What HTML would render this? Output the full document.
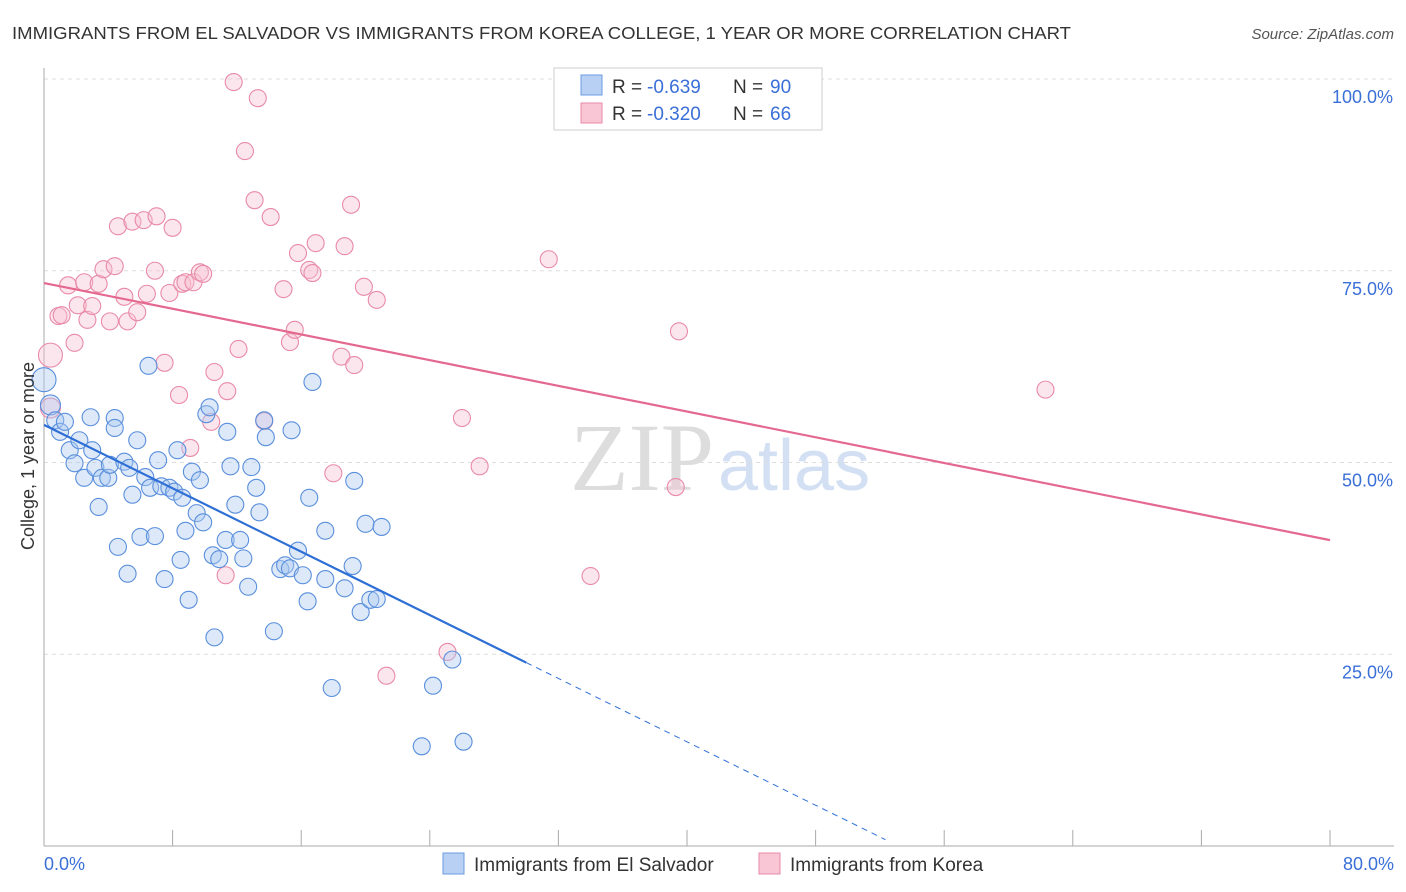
<!DOCTYPE html>
<html><head><meta charset="utf-8"><style>
body{margin:0;background:#fff;font-family:"Liberation Sans",sans-serif}
#wrap{position:relative;width:1406px;height:892px;overflow:hidden}
</style></head><body><div id="wrap">
<svg id="svg" width="1406" height="892" xmlns="http://www.w3.org/2000/svg">
<text x="12" y="39" font-size="17.5" fill="#333" textLength="1059" lengthAdjust="spacingAndGlyphs">IMMIGRANTS FROM EL SALVADOR VS IMMIGRANTS FROM KOREA COLLEGE, 1 YEAR OR MORE CORRELATION CHART</text>
<text x="1394" y="39" font-size="15" fill="#555" font-style="italic" text-anchor="end">Source: ZipAtlas.com</text>
<text x="714" y="490" font-size="96" fill="#ddd" text-anchor="end" font-family="Liberation Serif">ZIP</text>
<text x="718" y="490" font-size="72" fill="#d3e0f3">atlas</text>
<g id="grid"></g><g id="marks"></g>
<text transform="translate(34,456) rotate(-90)" font-size="18" fill="#333" text-anchor="middle">College, 1 year or more</text>
<g>
<rect x="554" y="68" width="268" height="62" fill="#fff" stroke="#ccc"/>
<rect x="581" y="75" width="21" height="20" fill="#b8d0f3" stroke="#6a9be0"/>
<rect x="581" y="103" width="21" height="20" fill="#f8c6d5" stroke="#e88aa8"/>
<text x="612" y="93" font-size="19" fill="#333">R = </text><text x="647" y="93" font-size="19" fill="#3a6fd8">-0.639</text>
<text x="733" y="93" font-size="19" fill="#333">N = </text><text x="770" y="93" font-size="19" fill="#3a6fd8">90</text>
<text x="612" y="120" font-size="19" fill="#333">R = </text><text x="647" y="120" font-size="19" fill="#3a6fd8">-0.320</text>
<text x="733" y="120" font-size="19" fill="#333">N = </text><text x="770" y="120" font-size="19" fill="#3a6fd8">66</text>
</g>
<text x="44" y="870" font-size="18" fill="#3a6fd8">0.0%</text>
<text x="1394" y="870" font-size="18" fill="#3a6fd8" text-anchor="end">80.0%</text>
<g>
<rect x="443" y="853" width="21" height="21" fill="#b8d0f3" stroke="#6a9be0"/>
<text x="474" y="871" font-size="19" fill="#333">Immigrants from El Salvador</text>
<rect x="759" y="853" width="21" height="21" fill="#f8c6d5" stroke="#e88aa8"/>
<text x="790" y="871" font-size="19" fill="#333">Immigrants from Korea</text>
</g>
</svg></div>
<script>
const yTicks=[25,50,75,100];
const blueX=[0,0.4,0.7,1.0,1.3,1.6,1.9,2.2,2.5,2.9,3.0,3.2,3.4,3.6,4.0,4.1,4.4,4.4,4.6,5.0,5.2,5.3,5.5,5.8,6.0,6.3,6.5,6.6,6.9,7.1,7.3,7.5,7.8,8.1,8.3,8.5,8.6,8.8,9.0,9.2,9.5,9.7,9.9,10.1,10.3,10.5,10.6,10.9,11.3,11.4,11.6,11.9,12.2,12.4,12.7,12.9,13.2,13.4,13.7,13.8,14.3,14.7,15.0,15.3,15.4,15.8,16.1,16.4,16.5,16.7,17.5,17.5,17.9,18.7,19.2,19.3,19.7,20.0,20.3,20.7,21.0,23.5,24.2,25.4,26.1];
const blueY=[60.8,57.5,55.5,54.0,55.3,51.6,49.9,52.9,48.0,55.9,51.6,49.3,44.2,48.0,48.0,49.7,55.8,54.5,39.0,50.1,35.5,49.3,45.8,52.9,40.3,48.1,62.6,46.7,40.4,50.3,46.9,34.8,46.7,46.2,51.6,37.3,45.4,41.1,32.1,48.8,43.4,47.7,42.2,56.3,57.2,37.9,27.2,37.4,39.9,54.0,49.5,44.5,39.9,37.5,33.8,49.4,46.7,43.5,55.5,53.3,28.0,36.1,36.6,36.2,54.2,38.5,35.3,31.9,45.4,60.5,41.1,34.8,20.6,33.6,36.5,47.6,30.5,42.0,32.1,32.2,41.6,13.0,20.9,24.3,13.6];
const pinkX=[0.4,0.4,0.9,1.1,1.5,1.9,2.1,2.5,2.7,3.0,3.4,3.7,4.1,4.4,4.6,5.0,5.2,5.5,5.8,6.2,6.4,6.9,7.0,7.5,7.8,8.0,8.4,8.6,8.8,9.1,9.3,9.7,9.9,10.4,10.6,11.3,11.4,12.1,11.8,12.5,13.1,13.3,13.7,14.1,14.9,15.3,15.6,15.8,16.5,16.7,16.9,18.0,18.5,18.7,19.1,19.3,19.9,20.7,21.3,25.1,26.0,27.1,31.4,34.0,39.3,39.5,62.3];
const pinkY=[64.0,57.1,69.1,69.2,73.1,65.6,70.5,73.5,68.6,70.4,73.3,75.2,68.4,75.6,80.8,71.6,68.4,81.4,69.6,81.6,72.0,75.0,82.1,63.0,72.1,80.6,58.8,73.3,73.5,51.9,73.5,74.8,74.6,55.3,61.8,35.3,59.3,64.8,99.6,90.6,84.2,97.5,55.4,82.0,72.6,65.7,67.3,77.3,75.1,74.7,78.6,48.6,63.8,78.2,83.6,62.7,72.9,71.2,22.2,25.3,55.8,49.5,76.5,35.2,46.8,67.1,59.5];
const blueTrend=[54.9,-1.033], pinkTrend=[73.4,-0.419];
const X=v=>44+v/80*1286, Y=v=>846-v/100*767;
const NS="http://www.w3.org/2000/svg";
function mk(t,a,p){const e=document.createElementNS(NS,t);for(const k in a)e.setAttribute(k,a[k]);p.appendChild(e);return e;}
const grid=document.getElementById('grid'), marks=document.getElementById('marks');
yTicks.forEach(t=>{
 const l=mk('line',{x1:44,x2:1394,y1:Y(t),y2:Y(t),stroke:'#ddd','stroke-dasharray':'4,4'},grid);
 
 
 const tx=mk('text',{x:1393,y:Y(t)+24,'font-size':18,fill:'#3a6fd8','text-anchor':'end'},grid);
 tx.textContent=t.toFixed(1)+'%';
 
 
});
const ax=mk('line',{x1:44,x2:44,y1:68,y2:846,stroke:'#aaa'},grid);


const bx=mk('line',{x1:44,x2:1394,y1:846,y2:846,stroke:'#aaa'},grid);


for(let i=0;i<=10;i++){const k=mk('line',{x1:X(i*8),x2:X(i*8),y1:830,y2:846,stroke:'#aaa'},grid);
 
 }
function dots(xs,ys,fill,stroke,name){xs.forEach((x,i)=>{
 const r=(x<1&&i<2)?(i==0?12:10):8.5;
 const c=mk('circle',{cx:X(x),cy:Y(ys[i]),r:r,fill:fill,'fill-opacity':0.4,stroke:stroke,'stroke-width':1.1},marks);
 
 });}
dots(pinkX,pinkY,'#f8c0d1','#e88aa8','korea-point');
dots(blueX,blueY,'#a9c7ef','#5a8fdc','el-salvador-point');
const b1=mk('line',{x1:X(0),y1:Y(blueTrend[0]),x2:X(30),y2:Y(blueTrend[0]+blueTrend[1]*30),stroke:'#2e6fd6','stroke-width':2.2},marks);


const xe=-blueTrend[0]/blueTrend[1];
const b2=mk('line',{x1:X(30),y1:Y(blueTrend[0]+blueTrend[1]*30),x2:X(xe*0.985),y2:Y(blueTrend[0]+blueTrend[1]*xe*0.985),stroke:'#2e6fd6','stroke-width':1,'stroke-dasharray':'6,5'},marks);


const p1=mk('line',{x1:X(0),y1:Y(pinkTrend[0]),x2:X(80),y2:Y(pinkTrend[0]+pinkTrend[1]*80),stroke:'#e4688f','stroke-width':2.2},marks);


</script></body></html>
